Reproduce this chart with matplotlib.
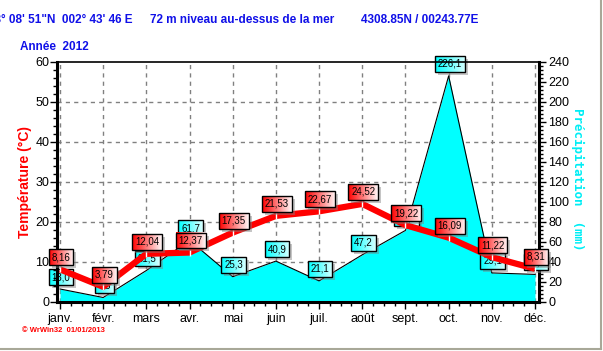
import numpy as np
import matplotlib
matplotlib.use("Agg")
import matplotlib.pyplot as plt
from matplotlib.image import BboxImage
from matplotlib.patches import Rectangle
from matplotlib.transforms import Bbox, IdentityTransform
from matplotlib.lines import Line2D
from matplotlib.ticker import MultipleLocator

months = ["janv.", "févr.", "mars", "avr.", "mai", "juin", "juil.", "août",
          "sept.", "oct.", "nov.", "déc."]
temperature = [8.16, 3.79, 12.04, 12.37, 17.35, 21.53, 22.67, 24.52, 19.22, 16.09, 11.22, 8.31]
precipitation = [13.0, 4.5, 31.5, 61.7, 25.3, 40.9, 21.1, 47.2, 71.6, 226.1, 29.1, 27.6]

title_coord = "43° 08' 51\"N  002° 43' 46 E"
title_alt = "72 m niveau au-dessus de la mer"
title_pos = "4308.85N / 00243.77E"
year_label = "Année  2012"
footer = "© WrWin32  01/01/2013"

plt.rcParams['font.family'] = ['Liberation Sans', 'DejaVu Sans']

W, H = 603, 351
fig = plt.figure(figsize=(W / 100, H / 100), dpi=100)
fig.patch.set_facecolor('white')

L, R, T, B = 57, 539, 62, 302
rect = [L / W, 1 - B / H, (R - L) / W, (B - T) / H]
ax2 = fig.add_axes(rect)   # precipitation (bottom layer)
ax = ax2.twinx()           # temperature (top layer)
ax.set_zorder(ax2.get_zorder() + 1)
ax.patch.set_visible(False)

x = np.arange(len(months))
xl = (-3 / 43.18, 11 + 4 / 43.18)

# ---- precipitation axis (drawn on the right) ----
ax2.set_xlim(*xl)
ax2.set_ylim(0, 240)
ax2.fill_between(x, precipitation, 0, color='#00ffff', zorder=2, lw=0)
ax2.plot(x, precipitation, color='black', lw=0.8, zorder=3)
ax2.yaxis.tick_right()
ax2.yaxis.set_label_position('right')
ax2.set_yticks(np.arange(0, 241, 20))
ax2.yaxis.set_minor_locator(MultipleLocator(4))
ax2.set_axisbelow(True)
ax2.grid(True, which='major', axis='x', color='#808080', ls=(0, (3, 3)), lw=1)
ax2.set_xticks(x)
ax2.set_xticklabels(months, fontsize=9)
ax2.xaxis.set_minor_locator(MultipleLocator(0.25))
for v in range(40, 240, 40):
    ax2.axhline(v, color='#808080', ls=(0, (3, 3)), lw=1, zorder=0.5)
ax2.tick_params(axis='y', which='major', direction='out', length=5, width=1, labelsize=9, pad=1.5)
ax2.tick_params(axis='y', which='minor', direction='out', length=3, width=1)
ax2.tick_params(axis='x', which='major', direction='out', length=5, width=1, pad=3)
ax2.tick_params(axis='x', which='minor', direction='out', length=3, width=1)
for s in ['left', 'top']:
    ax2.spines[s].set_visible(False)
ax2.spines['right'].set_linewidth(2.2)
ax2.spines['bottom'].set_linewidth(2.2)

# ---- temperature axis ----
ax.set_xlim(*xl)
ax.set_ylim(0, 60)
ax.yaxis.tick_left()
ax.set_yticks(np.arange(0, 61, 10))
ax.yaxis.set_minor_locator(MultipleLocator(2))
ax.tick_params(axis='y', which='major', direction='out', length=5, width=1, labelsize=9, pad=0.5)
ax.tick_params(axis='y', which='minor', direction='out', length=3, width=1)
ax.spines['left'].set_linewidth(2.2)
ax.spines['top'].set_linewidth(1.2)
ax.spines['right'].set_visible(False)
ax.spines['bottom'].set_visible(False)
ax.plot(x, temperature, color='#ff0000', lw=4.5, zorder=4, solid_capstyle='butt')
ax.plot(x, temperature, ls='none', marker='|', color='white', ms=5, mew=1, zorder=4.5)

ax.text(-0.066, 0.5, "Température (°C)", transform=ax.transAxes, rotation=90,
        color='#ff0000', fontsize=10, fontweight='bold', ha='center', va='center')
ax2.text(1.079, 0.51, "Précipitation  (mm)", transform=ax2.transAxes, rotation=-90,
         color='#00eef5', fontsize=9, fontweight='bold', ha='center', va='center',
         family='DejaVu Sans Mono')

# ---- value labels ----
def fmt(v, d):
    return (f"{v:.{d}f}").replace('.', ',')

tlabels = []
for xi, v in zip(x, temperature):
    t = ax.annotate(fmt(v, 2), (xi, v), xytext=(1, 12), textcoords='offset pixels',
                    ha='center', va='center', fontsize=7, zorder=7, annotation_clip=False,
                    bbox=dict(boxstyle='square,pad=0.3', fc='none', ec='black', lw=1))
    t.set_clip_on(False)
    tlabels.append((t, ax, ((1.0, 0.0, 0.0), (1.0, 0.97, 0.97))))
for xi, v in zip(x, precipitation):
    t = ax2.annotate(fmt(v, 1), (xi, v), xytext=(1, 12), textcoords='offset pixels',
                     ha='center', va='center', fontsize=7, zorder=7, annotation_clip=False,
                     bbox=dict(boxstyle='square,pad=0.3', fc='none', ec='black', lw=1))
    t.set_clip_on(False)
    tlabels.append((t, ax2, ((0.0, 1.0, 1.0), (0.85, 1.0, 1.0))))

fig.canvas.draw()
renderer = fig.canvas.get_renderer()
for t, a, (c0, c1) in tlabels:
    bb = t.get_bbox_patch().get_window_extent(renderer)
    sh = Rectangle((bb.x0 + 3, bb.y0 - 3), bb.width, bb.height, transform=IdentityTransform(),
                   facecolor='#808080', alpha=0.45, edgecolor='none', zorder=5)
    sh.set_clip_on(False)
    a.add_artist(sh)
    n = 64
    grad = np.zeros((1, n, 3))
    for k in range(3):
        grad[0, :, k] = np.linspace(c0[k], c1[k], n)
    im = BboxImage(Bbox([[bb.x0, bb.y0], [bb.x1, bb.y1]]), data=grad, interpolation='bilinear', zorder=6)
    im.set_clip_on(False)
    a.add_artist(im)

# ---- header / footer ----
hdr = dict(color='#1010e8', fontsize=8.5, fontweight='bold', va='center')
fig.text(133 / W, 1 - 20 / H, title_coord, ha='right', **hdr)
fig.text(150 / W, 1 - 20 / H, title_alt, ha='left', **hdr)
fig.text(361 / W, 1 - 20 / H, title_pos, ha='left', **hdr)
fig.text(20 / W, 1 - 47 / H, year_label, ha='left', **hdr)
fig.text(22 / W, 1 - 331 / H, footer, color='#ff0000', fontsize=5.5, fontweight='bold',
         ha='left', va='center')

# window frame
fig.add_artist(Line2D([0, 601 / W], [1 - 349 / H, 1 - 349 / H], transform=fig.transFigure,
                      color='#a8a898', lw=1.5))
fig.add_artist(Line2D([601 / W, 601 / W], [1 - 349 / H, 1], transform=fig.transFigure,
                      color='#a8a898', lw=1.5))

fig.savefig('out.png', dpi=100)
